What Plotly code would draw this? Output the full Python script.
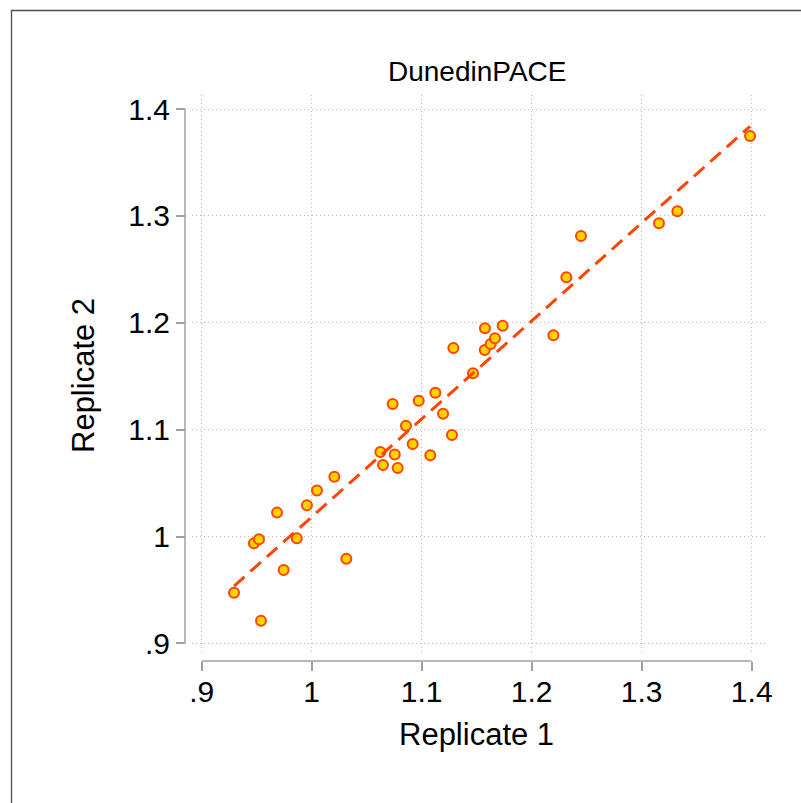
import numpy as np
import plotly.graph_objects as go

# ---- data ----
rep1 = [0.9294, 0.9539, 0.9475, 0.9521, 0.9685, 0.9745, 0.9864, 0.9957, 1.0048,
        1.0206, 1.0315, 1.0624, 1.0648, 1.0755, 1.0782, 1.0736, 1.0857, 1.0918,
        1.0973, 1.1124, 1.1194, 1.1078, 1.1275, 1.1466, 1.1575, 1.1573, 1.1627,
        1.1666, 1.1736, 1.2197, 1.2315, 1.2448, 1.3157, 1.3324, 1.3985, 1.1288]
rep2 = [0.9475, 0.9213, 0.9937, 0.9975, 1.0224, 0.9688, 0.9984, 1.0293, 1.0430,
        1.0560, 0.9793, 1.0791, 1.0670, 1.0767, 1.0642, 1.1240, 1.1037, 1.0866,
        1.1271, 1.1346, 1.1150, 1.0760, 1.0950, 1.1528, 1.1948, 1.1746, 1.1802,
        1.1855, 1.1973, 1.1883, 1.2426, 1.2812, 1.2931, 1.3043, 1.3747, 1.1764]

x_ticks = [0.9, 1.0, 1.1, 1.2, 1.3, 1.4]
x_ticktext = [".9", "1", "1.1", "1.2", "1.3", "1.4"]
y_ticks = [0.9, 1.0, 1.1, 1.2, 1.3, 1.4]
y_ticktext = [".9", "1", "1.1", "1.2", "1.3", "1.4"]

title_text = "DunedinPACE"
x_title = "Replicate 1"
y_title = "Replicate 2"

# linear fit
slope, intercept = np.polyfit(rep1, rep2, 1)
fit_x = np.array([min(rep1), max(rep1)])
fit_y = slope * fit_x + intercept

# ---- layout geometry (pixels) ----
FW, FH = 801, 803
L, R, T, B = 185, 33, 95, 142
W = FW - L - R
H = FH - T - B


def fx(px):
    return (px - L) / W


def fy(py):
    return (FH - B - py) / H


FONT = "Liberation Sans, Arial, Helvetica, sans-serif"
AXCOL = "#A0A0A0"
GRIDCOL = "#B8B8B8"

fig = go.Figure()
fig.add_trace(go.Scatter(
    x=rep1, y=rep2, mode="markers",
    marker=dict(size=10, color="#FFD200", line=dict(color="#FF4500", width=2)),
    hoverinfo="x+y", showlegend=False))
fig.add_trace(go.Scatter(
    x=fit_x, y=fit_y, mode="lines",
    line=dict(color="#FF4500", width=3, dash="14px,8px"),
    hoverinfo="skip", showlegend=False))

fig.update_layout(
    width=FW, height=FH,
    margin=dict(l=L, r=R, t=T, b=B, pad=0),
    paper_bgcolor="white", plot_bgcolor="white",
    showlegend=False,
    font=dict(family=FONT, color="black"),
    xaxis=dict(
        domain=[fx(192), 1], range=[0.8912, 1.4148],
        anchor="free", position=0,
        tickvals=x_ticks, ticktext=x_ticktext,
        ticks="outside", ticklen=9, tickwidth=1.5, tickcolor=AXCOL,
        ticklabelstandoff=-5,
        tickfont=dict(size=30, family=FONT, color="black"),
        showline=False, zeroline=False,
        showgrid=True, gridcolor=GRIDCOL, gridwidth=1, griddash="1px,3px",
    ),
    yaxis=dict(
        domain=[fy(655), 1], range=[0.8892, 1.4131],
        anchor="free", position=0,
        tickvals=y_ticks, ticktext=y_ticktext,
        ticks="outside", ticklen=9, tickwidth=1.5, tickcolor=AXCOL,
        tickfont=dict(size=30, family=FONT, color="black"),
        showline=False, zeroline=False,
        showgrid=True, gridcolor=GRIDCOL, gridwidth=1, griddash="1px,3px",
    ),
)

# axis lines spanning the tick range only
fig.add_shape(type="line", xref="x", yref="paper",
              x0=x_ticks[0], x1=x_ticks[-1], y0=0, y1=0,
              line=dict(color=AXCOL, width=1.5))
fig.add_shape(type="line", xref="paper", yref="y",
              x0=0, x1=0, y0=y_ticks[0], y1=y_ticks[-1],
              line=dict(color=AXCOL, width=1.5))

# outer frame
fig.add_shape(type="rect", xref="paper", yref="paper",
              x0=fx(11.5), x1=fx(820), y0=fy(10.5), y1=fy(820),
              line=dict(color="#4D4D4D", width=1.3), fillcolor="rgba(0,0,0,0)",
              layer="below")

# titles
fig.add_annotation(text=title_text, xref="paper", yref="paper",
                   x=fx(476.5), y=fy(72), xanchor="center", yanchor="middle",
                   showarrow=False, font=dict(size=28, family=FONT, color="black"))
fig.add_annotation(text=x_title, xref="paper", yref="paper",
                   x=fx(476.5), y=fy(734), xanchor="center", yanchor="middle",
                   showarrow=False, font=dict(size=31, family=FONT, color="black"))
fig.add_annotation(text=y_title, xref="paper", yref="paper",
                   x=fx(83), y=fy(376), xanchor="center", yanchor="middle",
                   textangle=-90,
                   showarrow=False, font=dict(size=31, family=FONT, color="black"))

fig.write_html("out.html")
